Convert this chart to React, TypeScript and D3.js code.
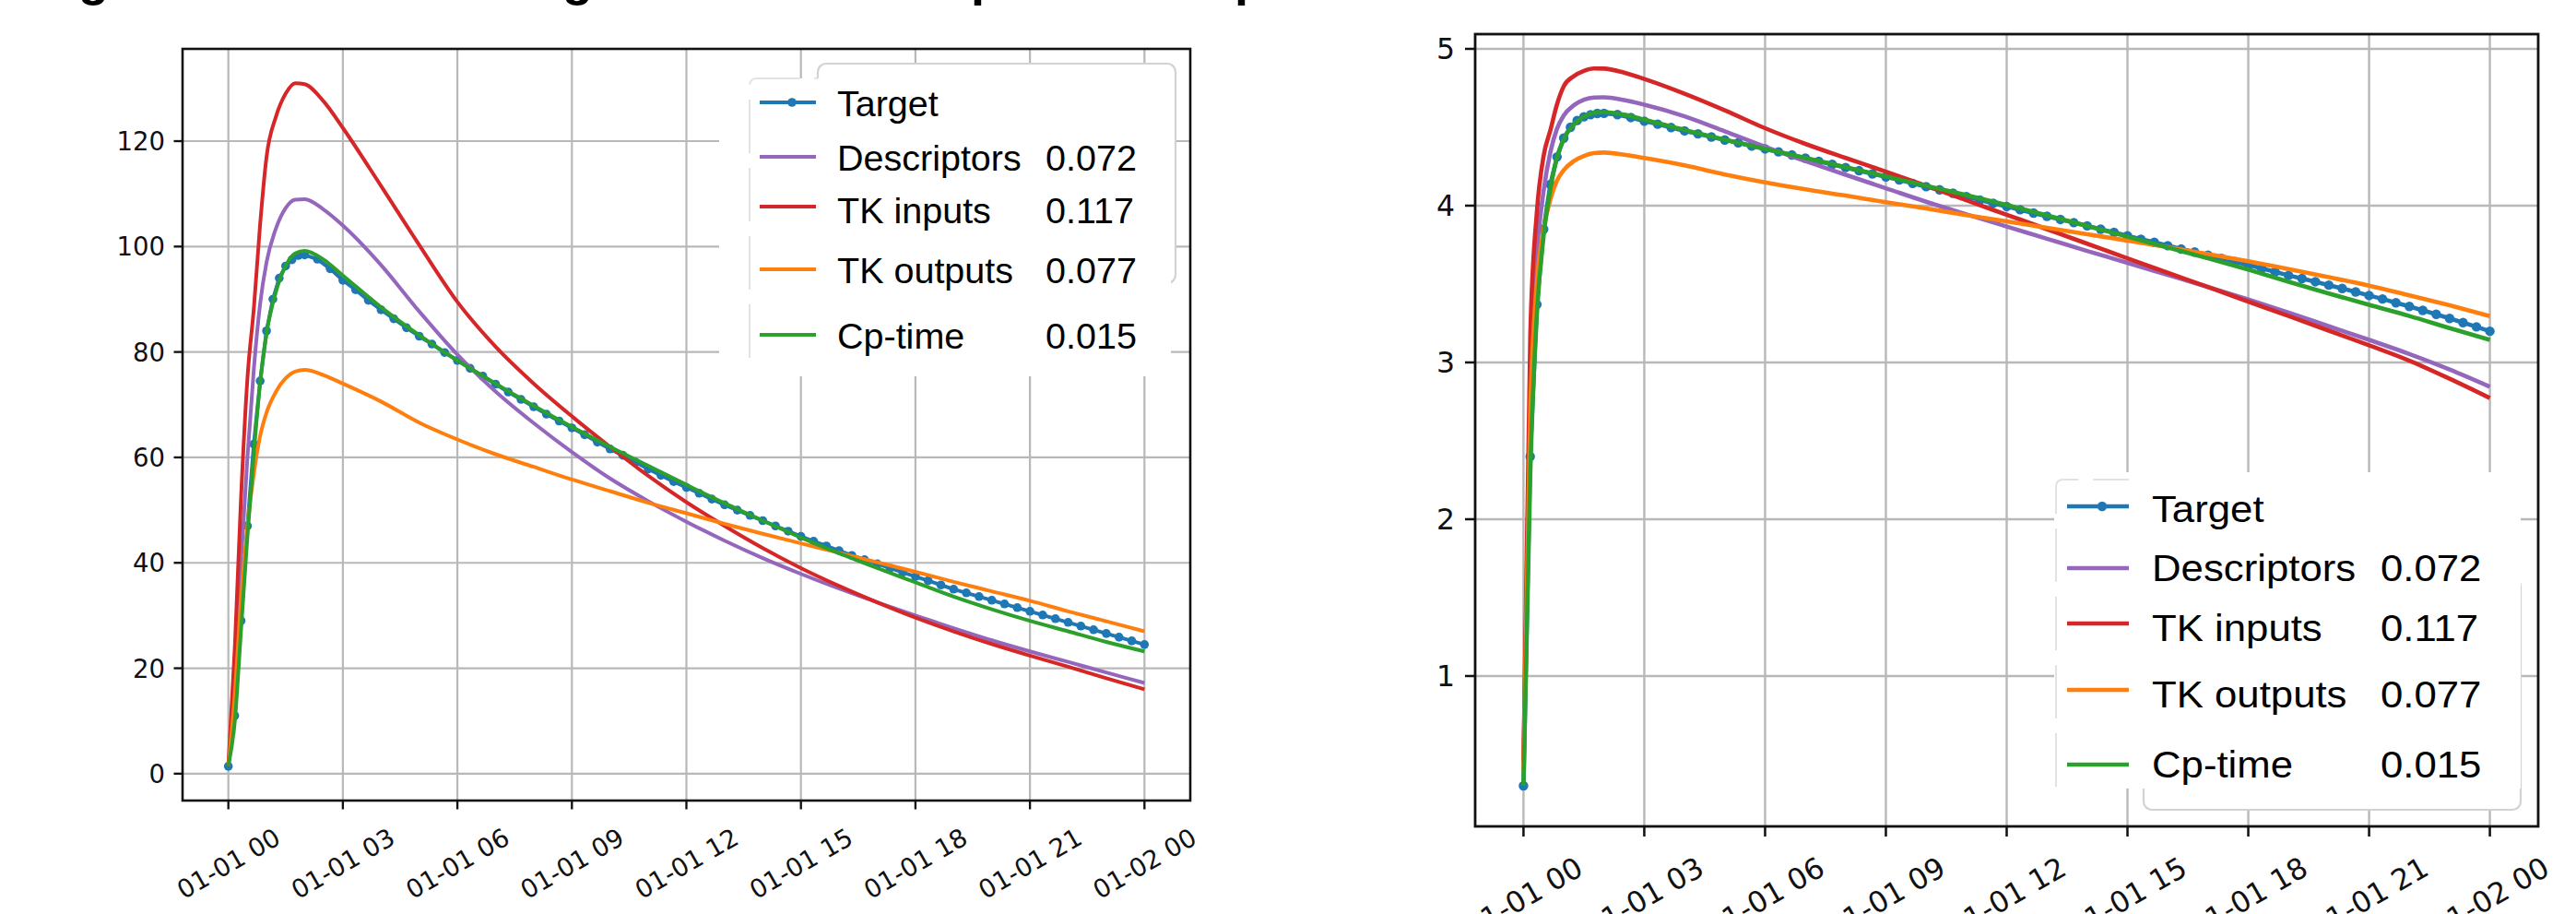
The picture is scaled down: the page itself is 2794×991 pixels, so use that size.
import React, { useEffect, useRef } from "react";
import * as d3 from "d3";

// series order follows the legend
const seriesNames = ["Target", "Descriptors", "TK inputs", "TK outputs", "Cp-time"];
const seriesScores = ["", "0.072", "0.117", "0.077", "0.015"];
const seriesColors = ["#1f77b4", "#9467bd", "#d62728", "#ff7f0e", "#2ca02c"];

// target samples (minutes after start)
const targetMinutes = [
  0, 10, 20, 30, 40, 50, 60, 70, 80, 90, 100, 110, 120,
  140, 160, 180, 200, 220, 240, 260, 280, 300, 320, 340, 360, 380, 400, 420, 440, 460, 480,
  500, 520, 540, 560, 580, 600, 620, 640, 660, 680, 700, 720, 740, 760, 780, 800, 820, 840,
  860, 880, 900, 920, 940, 960, 980, 1000, 1020, 1040, 1060, 1080, 1100, 1120, 1140, 1160,
  1180, 1200, 1220, 1240, 1260, 1280, 1300, 1320, 1340, 1360, 1380, 1400, 1420, 1440,
];

// model predictions (hours after start)
const modelHours = [
  0, 0.17, 0.33, 0.5, 0.67, 0.83, 1, 1.25, 1.5, 1.75, 2, 2.5, 3,
  4, 5, 6, 7, 8, 9, 10, 11, 12, 13, 14, 15, 16, 17, 18, 19, 20, 21, 22, 23, 24,
];

// left panel: concentration
const targetLinear = [
  1.4, 11, 29, 47, 62.5, 74.5, 84, 90, 94, 96.3, 97.5, 98.3, 98.4,
  97.6, 95.8,
  93.6, 91.8, 89.8, 88, 86.3, 84.6, 83, 81.5, 79.9, 78.4, 76.9, 75.4, 73.9, 72.4, 71,
  69.6, 68.2, 66.9, 65.6, 64.3, 62.9, 61.6, 60.4, 59.1, 57.8, 56.6, 55.4, 54.3, 53.2, 52.1,
  51, 50, 49, 48, 47, 46, 45, 44.1, 43.2, 42.3, 41.4, 40.6, 39.8, 39, 38.2,
  37.4, 36.6, 35.8, 35, 34.3, 33.6, 32.9, 32.2, 31.5, 30.8, 30.1, 29.4, 28.7, 28, 27.3,
  26.6, 25.9, 25.2, 24.5,
];
const descriptorsLinear = [
  1.5, 18, 40, 60, 77, 89, 97, 103.5, 107.3, 108.9, 109, 107, 104,
  96.5, 87.7, 79.5, 72.5, 66.5, 61, 56, 51.7, 47.8, 44.2, 40.9, 37.9, 35.1, 32.5, 30, 27.6,
  25.3, 23.2, 21.2, 19.2, 17.2,
];
const tkInputsLinear = [
  1.5, 24, 52, 75, 88.5, 104, 117, 124.7, 129, 131, 130.8, 127.5, 122.5,
  111.5, 100.3, 89.5, 81, 74, 67.8, 62, 56.5, 51.5, 47, 42.8, 39, 35.6, 32.5, 29.6, 27, 24.6,
  22.4, 20.3, 18.1, 16,
];
const tkOutputsLinear = [
  1.5, 15, 33, 47, 57, 64, 68.5, 72.5, 75, 76.3, 76.6, 75.6, 74,
  70.6, 66.6, 63.4, 60.6, 58.2, 55.8, 53.6, 51.4, 49.4, 47.4, 45.5, 43.7, 41.9, 40.1, 38.3,
  36.4, 34.6, 32.8, 30.8, 28.9, 27,
];
const cpTimeLinear = [
  1.5, 10, 27, 45, 61, 74, 83.5, 91.5, 96.3, 98.7, 99.2, 97.5, 94.5,
  88.5, 83.2, 78.4, 74, 69.8, 65.8, 62, 58.4, 54.8, 51.3, 48, 44.8, 41.8, 39, 36.3, 33.6,
  31.2, 29, 27, 25, 23.2,
];

// right panel: log concentration
const targetLog = [
  0.3, 2.4, 3.37, 3.85, 4.135, 4.311, 4.431, 4.5, 4.543, 4.567, 4.58, 4.588, 4.589,
  4.581, 4.562,
  4.539, 4.52, 4.498, 4.477, 4.458, 4.438, 4.419, 4.401, 4.381, 4.362, 4.343, 4.323,
  4.303, 4.282, 4.263, 4.243, 4.223, 4.203, 4.184, 4.164, 4.142, 4.121, 4.101, 4.079,
  4.057, 4.036, 4.015, 3.995, 3.974, 3.953, 3.932, 3.912, 3.892, 3.871, 3.85, 3.829,
  3.807, 3.786, 3.766, 3.745, 3.723, 3.704, 3.684, 3.664, 3.643, 3.622, 3.6, 3.578,
  3.555, 3.535, 3.515, 3.493, 3.472, 3.45, 3.427, 3.405, 3.381, 3.357, 3.332, 3.307,
  3.281, 3.254, 3.227, 3.199,
];
const descriptorsLog = [
  0.45, 2.89, 3.689, 4.094, 4.344, 4.489, 4.575, 4.64, 4.676, 4.69, 4.691, 4.673, 4.644,
  4.57, 4.474, 4.376, 4.284, 4.197, 4.111, 4.025, 3.945, 3.867, 3.789, 3.711, 3.635, 3.558,
  3.481, 3.401, 3.318, 3.231, 3.144, 3.054, 2.955, 2.845,
];
const tkInputsLog = [
  0.45, 3.178, 3.951, 4.317, 4.483, 4.644, 4.762, 4.826, 4.86, 4.875, 4.874, 4.848, 4.808,
  4.714, 4.608, 4.494, 4.394, 4.304, 4.217, 4.127, 4.034, 3.942, 3.85, 3.757, 3.664, 3.572,
  3.481, 3.388, 3.296, 3.203, 3.109, 3.011, 2.896, 2.773,
];
const tkOutputsLog = [
  0.4, 2.708, 3.497, 3.85, 4.043, 4.159, 4.227, 4.284, 4.317, 4.335, 4.339, 4.325, 4.304,
  4.257, 4.199, 4.149, 4.104, 4.064, 4.022, 3.982, 3.94, 3.9, 3.859, 3.818, 3.777, 3.735,
  3.691, 3.645, 3.595, 3.544, 3.49, 3.428, 3.364, 3.296,
];
const cpTimeLog = [
  0.3, 2.303, 3.296, 3.807, 4.111, 4.304, 4.425, 4.516, 4.567, 4.592, 4.597, 4.58, 4.549,
  4.483, 4.421, 4.362, 4.304, 4.246, 4.187, 4.127, 4.067, 4.004, 3.938, 3.871, 3.802, 3.733,
  3.664, 3.592, 3.515, 3.44, 3.367, 3.296, 3.219, 3.144,
];

const leftYTicks = [0, 20, 40, 60, 80, 100, 120];
const rightYTicks = [1, 2, 3, 4, 5];

const T0 = Date.UTC(2000, 0, 1);
const HOUR = 3600 * 1000;

const leftPanel = {
  left: 198, right: 1291, top: 53, bottom: 868,
  yDomain: [-5.1, 137.5], yTicks: leftYTicks,
  tickFont: 27.5, tickLen: 9.5, pad: 9.5, xLabelCy: 936,
  lineW: 4, dotR: 4.8, gridW: 2.2, spineW: 2.6,
  target: targetLinear,
  models: [descriptorsLinear, tkInputsLinear, tkOutputsLinear, cpTimeLinear],
  legend: {
    back: [887, 69, 388, 238], front: [780, 85, 490, 323],
    edgeX: 813, edgeTop: 85, edgeBottom: 388, edgeTopEnd: 887,
    handle: [824, 885], marker: 859,
    rows: [111, 170, 224, 292, 363], baselines: [126, 185, 242, 307, 378],
    textX: 908, valueX: 1134, font: 39.5, stretch: 1, nameClip: 0,
  },
};

const rightPanel = {
  left: 1600, right: 2753, top: 37, bottom: 896,
  yDomain: [0.041, 5.094], yTicks: rightYTicks,
  tickFont: 31.5, tickLen: 11, pad: 11, xLabelCy: 973,
  lineW: 4.6, dotR: 5.2, gridW: 2.4, spineW: 2.8,
  target: targetLog,
  models: [descriptorsLog, tkInputsLog, tkOutputsLog, cpTimeLog],
  legend: {
    back: [2325, 627, 409, 251], front: [2228, 512, 506, 343],
    edgeX: 2230, edgeTop: 520, edgeBottom: 853, edgeTopEnd: 2309,
    handle: [2242, 2309], marker: 2280,
    rows: [549, 616, 676, 748, 829], baselines: [566, 630, 695, 767, 843],
    textX: 2334, valueX: 2582, font: 40.5, stretch: 1.08, nameClip: 2558,
  },
};

function drawPanel(svg: any, p: any, idx: number) {
  const x = d3.scaleUtc()
    .domain([new Date(T0 - 1.2 * HOUR), new Date(T0 + 25.2 * HOUR)])
    .range([p.left, p.right]);
  const y = d3.scaleLinear().domain(p.yDomain).range([p.bottom, p.top]);
  const xTicks = x.ticks(d3.utcHour.every(3) as any);
  const fmt = d3.utcFormat("%m-%d %H");

  const g = svg.append("g");

  // grid
  g.selectAll(".vg").data(xTicks).enter().append("line")
    .attr("x1", (d: Date) => x(d)).attr("x2", (d: Date) => x(d))
    .attr("y1", p.top).attr("y2", p.bottom)
    .attr("stroke", "#b8b8b8").attr("stroke-width", p.gridW);
  g.selectAll(".hg").data(p.yTicks).enter().append("line")
    .attr("x1", p.left).attr("x2", p.right)
    .attr("y1", (d: number) => y(d)).attr("y2", (d: number) => y(d))
    .attr("stroke", "#b8b8b8").attr("stroke-width", p.gridW);

  const clipId = "plotclip" + idx;
  svg.append("clipPath").attr("id", clipId).append("rect")
    .attr("x", p.left).attr("y", p.top)
    .attr("width", p.right - p.left).attr("height", p.bottom - p.top);
  const plot = g.append("g").attr("clip-path", `url(#${clipId})`);

  // target with markers
  const targetPts = targetMinutes.map((m, i) => [new Date(T0 + m * 60000), p.target[i]]);
  const straight = d3.line<any>().x((d) => x(d[0])).y((d) => y(d[1]));
  plot.append("path").attr("d", straight(targetPts))
    .attr("fill", "none").attr("stroke", seriesColors[0]).attr("stroke-width", p.lineW);
  plot.selectAll(".dot").data(targetPts).enter().append("circle")
    .attr("cx", (d: any) => x(d[0])).attr("cy", (d: any) => y(d[1]))
    .attr("r", p.dotR).attr("fill", seriesColors[0]);

  // models
  const smooth = d3.line<any>().x((d) => x(d[0])).y((d) => y(d[1])).curve(d3.curveMonotoneX);
  p.models.forEach((vals: number[], k: number) => {
    const pts = modelHours.map((h, i) => [new Date(T0 + h * HOUR), vals[i]]);
    plot.append("path").attr("d", smooth(pts))
      .attr("fill", "none").attr("stroke", seriesColors[k + 1])
      .attr("stroke-width", p.lineW).attr("stroke-linejoin", "round");
  });

  // spines
  g.append("rect").attr("x", p.left).attr("y", p.top)
    .attr("width", p.right - p.left).attr("height", p.bottom - p.top)
    .attr("fill", "none").attr("stroke", "#111").attr("stroke-width", p.spineW);

  // y ticks
  g.selectAll(".yt").data(p.yTicks).enter().append("line")
    .attr("x1", p.left - p.tickLen).attr("x2", p.left)
    .attr("y1", (d: number) => y(d)).attr("y2", (d: number) => y(d))
    .attr("stroke", "#111").attr("stroke-width", p.spineW * 0.9);
  g.selectAll(".yl").data(p.yTicks).enter().append("text")
    .attr("x", p.left - p.tickLen - p.pad).attr("y", (d: number) => y(d))
    .attr("text-anchor", "end").attr("dominant-baseline", "central")
    .attr("font-family", "DejaVu Sans").attr("font-size", p.tickFont).attr("fill", "#111")
    .text((d: number) => String(d));

  // x ticks
  g.selectAll(".xt").data(xTicks).enter().append("line")
    .attr("x1", (d: Date) => x(d)).attr("x2", (d: Date) => x(d))
    .attr("y1", p.bottom).attr("y2", p.bottom + p.tickLen)
    .attr("stroke", "#111").attr("stroke-width", p.spineW * 0.9);
  g.selectAll(".xl").data(xTicks).enter().append("text")
    .attr("x", (d: Date) => x(d)).attr("y", p.xLabelCy)
    .attr("transform", (d: Date) => `rotate(-30,${x(d)},${p.xLabelCy})`)
    .attr("text-anchor", "middle").attr("dominant-baseline", "central")
    .attr("font-family", "DejaVu Sans").attr("font-size", p.tickFont).attr("fill", "#111")
    .text((d: Date) => fmt(d));

  // legend (two stacked boxes as in the source figure)
  const L = p.legend;
  g.append("rect").attr("x", L.back[0]).attr("y", L.back[1])
    .attr("width", L.back[2]).attr("height", L.back[3]).attr("rx", 9)
    .attr("fill", "#fff").attr("stroke", "#d2d2d2").attr("stroke-width", 2.2);
  g.append("rect").attr("x", L.front[0]).attr("y", L.front[1])
    .attr("width", L.front[2]).attr("height", L.front[3]).attr("fill", "#fff");
  g.append("path")
    .attr("d", `M${L.edgeX},${L.edgeBottom} V${L.edgeTop + 8} Q${L.edgeX},${L.edgeTop} ${L.edgeX + 8},${L.edgeTop} H${L.edgeTopEnd}`)
    .attr("fill", "none").attr("stroke", "#e2e2e2").attr("stroke-width", 2)
    .attr("stroke-dasharray", "58,16");

  let nameClip: string | null = null;
  if (L.nameClip) {
    nameClip = "nameclip" + idx;
    svg.append("clipPath").attr("id", nameClip).append("rect")
      .attr("x", L.textX - 5).attr("y", L.front[1])
      .attr("width", L.nameClip - L.textX + 5).attr("height", L.front[3]);
  }

  seriesNames.forEach((name, k) => {
    const ry = L.rows[k];
    g.append("line").attr("x1", L.handle[0]).attr("x2", L.handle[1])
      .attr("y1", ry).attr("y2", ry)
      .attr("stroke", seriesColors[k]).attr("stroke-width", p.lineW);
    if (k === 0) {
      g.append("circle").attr("cx", L.marker).attr("cy", ry).attr("r", p.dotR)
        .attr("fill", seriesColors[0]);
    }
    const nameG = g.append("g");
    if (nameClip) nameG.attr("clip-path", `url(#${nameClip})`);
    nameG.append("text")
      .attr("transform", `translate(${L.textX},${L.baselines[k]}) scale(${L.stretch},1)`)
      .attr("font-family", "Liberation Sans, Arial, sans-serif").attr("font-size", L.font)
      .attr("fill", "#000").text(name);
    if (seriesScores[k]) {
      g.append("text")
        .attr("transform", `translate(${L.valueX},${L.baselines[k]}) scale(${L.stretch},1)`)
        .attr("font-family", "Liberation Sans, Arial, sans-serif").attr("font-size", L.font)
        .attr("fill", "#000").text(seriesScores[k]);
    }
  });
}

export default function App() {
  const ref = useRef<SVGSVGElement | null>(null);

  useEffect(() => {
    const svg = d3.select(ref.current);
    svg.selectAll("*").remove();
    svg.append("rect").attr("width", 2794).attr("height", 991).attr("fill", "#fff");

    // page caption, cut off at the top edge of the image
    const title = svg.append("text")
      .attr("y", -5)
      .attr("font-family", "Liberation Sans, Arial, sans-serif")
      .attr("font-weight", "bold").attr("font-size", 54).attr("fill", "#000");
    title.append("tspan").attr("x", 37).text("Figure 7:");
    title.append("tspan").attr("x", 283).text("Model vs.");
    title.append("tspan").attr("x", 530).text("Target");
    title.append("tspan").attr("x", 722).text("and");
    title.append("tspan").attr("x", 933).text("Comparison");
    title.append("tspan").attr("x", 1255).text("output");

    drawPanel(svg, leftPanel, 0);
    drawPanel(svg, rightPanel, 1);
  }, []);

  return (
    <>
      <style>{`body{margin:0;overflow:hidden}`}</style>
      <svg ref={ref} width={2794} height={991} style={{ display: "block" }} />
    </>
  );
}
